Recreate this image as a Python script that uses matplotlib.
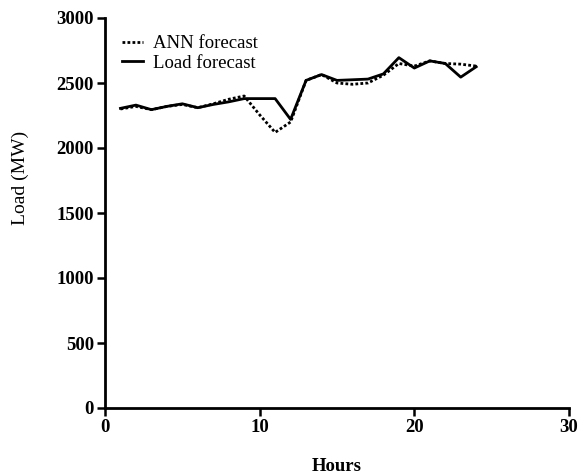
import matplotlib
matplotlib.use("Agg")
import matplotlib.pyplot as plt

hours = list(range(1, 25))
ann_forecast = [2300, 2320, 2295, 2320, 2335, 2310, 2340, 2375, 2400, 2255, 2120, 2200,
                2520, 2565, 2500, 2490, 2500, 2560, 2650, 2630, 2670, 2650, 2645, 2630]
load_forecast = [2305, 2330, 2295, 2320, 2340, 2310, 2335, 2355, 2380, 2380, 2380, 2220,
                 2520, 2565, 2520, 2525, 2530, 2570, 2695, 2615, 2670, 2650, 2545, 2625]

plt.rcParams['font.family'] = ['Liberation Serif', 'DejaVu Serif']

fig = plt.figure(figsize=(5.86, 4.76), dpi=100)
ax = fig.add_axes([105/586, 1-408/476, (569-105)/586, (408-18)/476])

ax.plot(hours, ann_forecast, color='black', linestyle=(0, (1, 0.8)), linewidth=2.0, label='ANN forecast')
ax.plot(hours, load_forecast, color='black', linestyle='-', linewidth=2.0, label='Load forecast')

ax.set_xlim(0, 30)
ax.set_ylim(0, 3000)
ax.set_xticks([0, 10, 20, 30])
ax.set_yticks([0, 500, 1000, 1500, 2000, 2500, 3000])

for s in ['top', 'right']:
    ax.spines[s].set_visible(False)
for s in ['left', 'bottom']:
    ax.spines[s].set_linewidth(2)

ax.tick_params(axis='both', direction='out', length=6, width=1.8, labelsize=13.5, pad=2)
for lbl in ax.get_xticklabels() + ax.get_yticklabels():
    lbl.set_fontweight('bold')

ax.set_xlabel('Hours', fontsize=13.5, fontweight='bold', labelpad=16)
ax.set_ylabel('Load (MW)', fontsize=14)
ax.yaxis.set_label_coords(-0.163, 0.59)

leg = ax.legend(loc='upper left', frameon=False, fontsize=13.5, handlelength=1.12,
                handletextpad=0.53, borderaxespad=0.0, borderpad=0.0, labelspacing=0.12,
                bbox_to_anchor=((122-105)/464, (408-35)/390))

fig.savefig('out.png', dpi=100)
